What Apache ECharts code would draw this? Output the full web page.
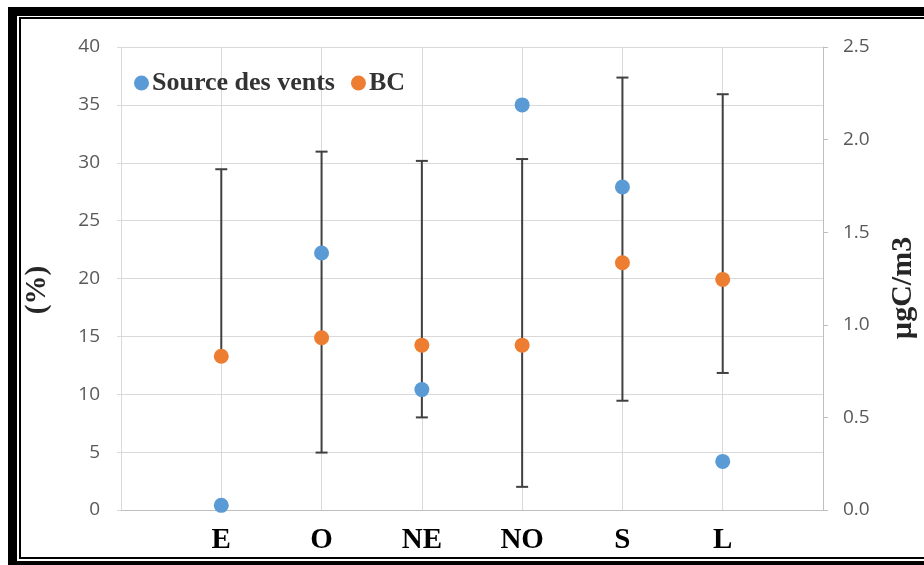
<!DOCTYPE html>
<html>
<head>
<meta charset="utf-8">
<script src="https://cdn.jsdelivr.net/npm/echarts@6/dist/echarts.min.js"></script>
<style>
html,body{margin:0;padding:0;background:#fff;}
#chart{width:924px;height:565px;}
</style>
</head>
<body>
<div id="chart"></div>
<script>
const categories = ['E', 'O', 'NE', 'NO', 'S', 'L'];
const sourceVents = [0.4, 22.2, 10.4, 35.0, 27.9, 4.2];
const bcValues = [0.83, 0.93, 0.89, 0.89, 1.335, 1.245];
const bcHigh = [1.84, 1.935, 1.885, 1.895, 2.335, 2.245];
const bcLow = [null, 0.31, 0.50, 0.125, 0.59, 0.74];
const leftTicks = [0, 5, 10, 15, 20, 25, 30, 35, 40];
const rightTicks = [0.0, 0.5, 1.0, 1.5, 2.0, 2.5];
const leftName = '(%)';
const rightName = 'µgC/m3';

const chart = echarts.init(document.getElementById('chart'), null, {renderer: 'canvas'});
const serif = '"Liberation Serif", "Times New Roman", serif';
const sans = '"Open Sans", "Noto Sans", sans-serif';

const scatterBlue = categories.map((c, i) => [i + 1, sourceVents[i]]);
const scatterOrange = categories.map((c, i) => [i + 1, bcValues[i]]);
const errData = categories.map((c, i) => [i + 1, bcValues[i], bcLow[i], bcHigh[i]]);

chart.setOption({
  animation: false,
  backgroundColor: '#ffffff',
  grid: {left: 121, right: 101, top: 47, bottom: 55, containLabel: false},
  legend: {
    left: 129, top: 65,
    itemWidth: 15, itemHeight: 15, itemGap: 16,
    icon: 'circle',
    textStyle: {fontFamily: serif, fontWeight: 'bold', fontSize: 26, color: '#333333', padding: [0, 0, 0, -2]},
    data: ['Source des vents', 'BC']
  },
  xAxis: {
    type: 'value', min: 0, max: 7, interval: 1,
    axisLine: {show: true, lineStyle: {color: '#bfbfbf', width: 1}},
    axisTick: {show: false},
    splitLine: {show: true, lineStyle: {color: '#d9d9d9', width: 1}},
    axisLabel: {
      margin: 16,
      fontFamily: serif, fontWeight: 'bold', fontSize: 29, color: '#000000',
      formatter: v => (v >= 1 && v <= categories.length) ? categories[v - 1] : ''
    }
  },
  yAxis: [
    {
      type: 'value', min: leftTicks[0], max: leftTicks[leftTicks.length - 1], interval: 5,
      axisLine: {show: false},
      axisTick: {show: true, length: 4, lineStyle: {color: '#d9d9d9'}},
      splitLine: {show: true, lineStyle: {color: '#d9d9d9', width: 1}},
      axisLabel: {margin: 21, fontFamily: sans, fontSize: 19, color: '#595959'}
    },
    {
      type: 'value', min: rightTicks[0], max: rightTicks[rightTicks.length - 1], interval: 0.5,
      position: 'right',
      axisLine: {show: true, lineStyle: {color: '#bfbfbf', width: 1}},
      axisTick: {show: true, length: 5, lineStyle: {color: '#bfbfbf'}},
      splitLine: {show: false},
      axisLabel: {margin: 20, fontFamily: sans, fontSize: 19, color: '#595959', formatter: v => v.toFixed(1)}
    }
  ],
  series: [
    {
      type: 'custom',
      name: 'errorbars',
      yAxisIndex: 1,
      silent: true,
      z: 2,
      data: errData,
      renderItem: function (params, api) {
        const x = api.value(0);
        const val = api.value(1);
        const lo = api.value(2);
        const hi = api.value(3);
        const pHi = api.coord([x, hi]);
        const hasLow = lo !== null && lo !== undefined && !isNaN(lo);
        const pLo = api.coord([x, hasLow ? lo : val]);
        const capW = 6;
        const style = {stroke: '#404040', lineWidth: 2};
        const children = [
          {type: 'line', shape: {x1: pHi[0], y1: pHi[1], x2: pLo[0], y2: pLo[1]}, style: style},
          {type: 'line', shape: {x1: pHi[0] - capW, y1: pHi[1], x2: pHi[0] + capW, y2: pHi[1]}, style: style}
        ];
        if (hasLow) {
          children.push({type: 'line', shape: {x1: pLo[0] - capW, y1: pLo[1], x2: pLo[0] + capW, y2: pLo[1]}, style: style});
        }
        return {type: 'group', children: children};
      }
    },
    {
      type: 'scatter', name: 'Source des vents', yAxisIndex: 0,
      symbol: 'circle', symbolSize: 15, z: 3,
      itemStyle: {color: '#5B9BD5', opacity: 1},
      data: scatterBlue
    },
    {
      type: 'scatter', name: 'BC', yAxisIndex: 1,
      symbol: 'circle', symbolSize: 15, z: 4,
      itemStyle: {color: '#ED7D31', opacity: 1},
      data: scatterOrange
    }
  ],
  graphic: [
    {type: 'text', x: 38, y: 290, rotation: Math.PI / 2,
      style: {text: leftName, fontFamily: serif, fontWeight: 'bold', fontSize: 29, fill: '#262626', align: 'center', verticalAlign: 'middle'}},
    {type: 'text', x: 903, y: 288, rotation: Math.PI / 2,
      style: {text: rightName, fontFamily: serif, fontWeight: 'bold', fontSize: 30, fill: '#262626', align: 'center', verticalAlign: 'middle'}},
    {type: 'rect', shape: {x: 8, y: 7, width: 916, height: 9}, style: {fill: '#000'}, z: 100},
    {type: 'rect', shape: {x: 19, y: 17, width: 905, height: 2}, style: {fill: '#000'}, z: 100},
    {type: 'rect', shape: {x: 8, y: 7, width: 9, height: 558}, style: {fill: '#000'}, z: 100},
    {type: 'rect', shape: {x: 19, y: 17, width: 2, height: 542}, style: {fill: '#000'}, z: 100},
    {type: 'rect', shape: {x: 19, y: 557, width: 905, height: 2}, style: {fill: '#000'}, z: 100},
    {type: 'rect', shape: {x: 8, y: 561, width: 916, height: 4}, style: {fill: '#000'}, z: 100}
  ]
});
</script>
</body>
</html>
